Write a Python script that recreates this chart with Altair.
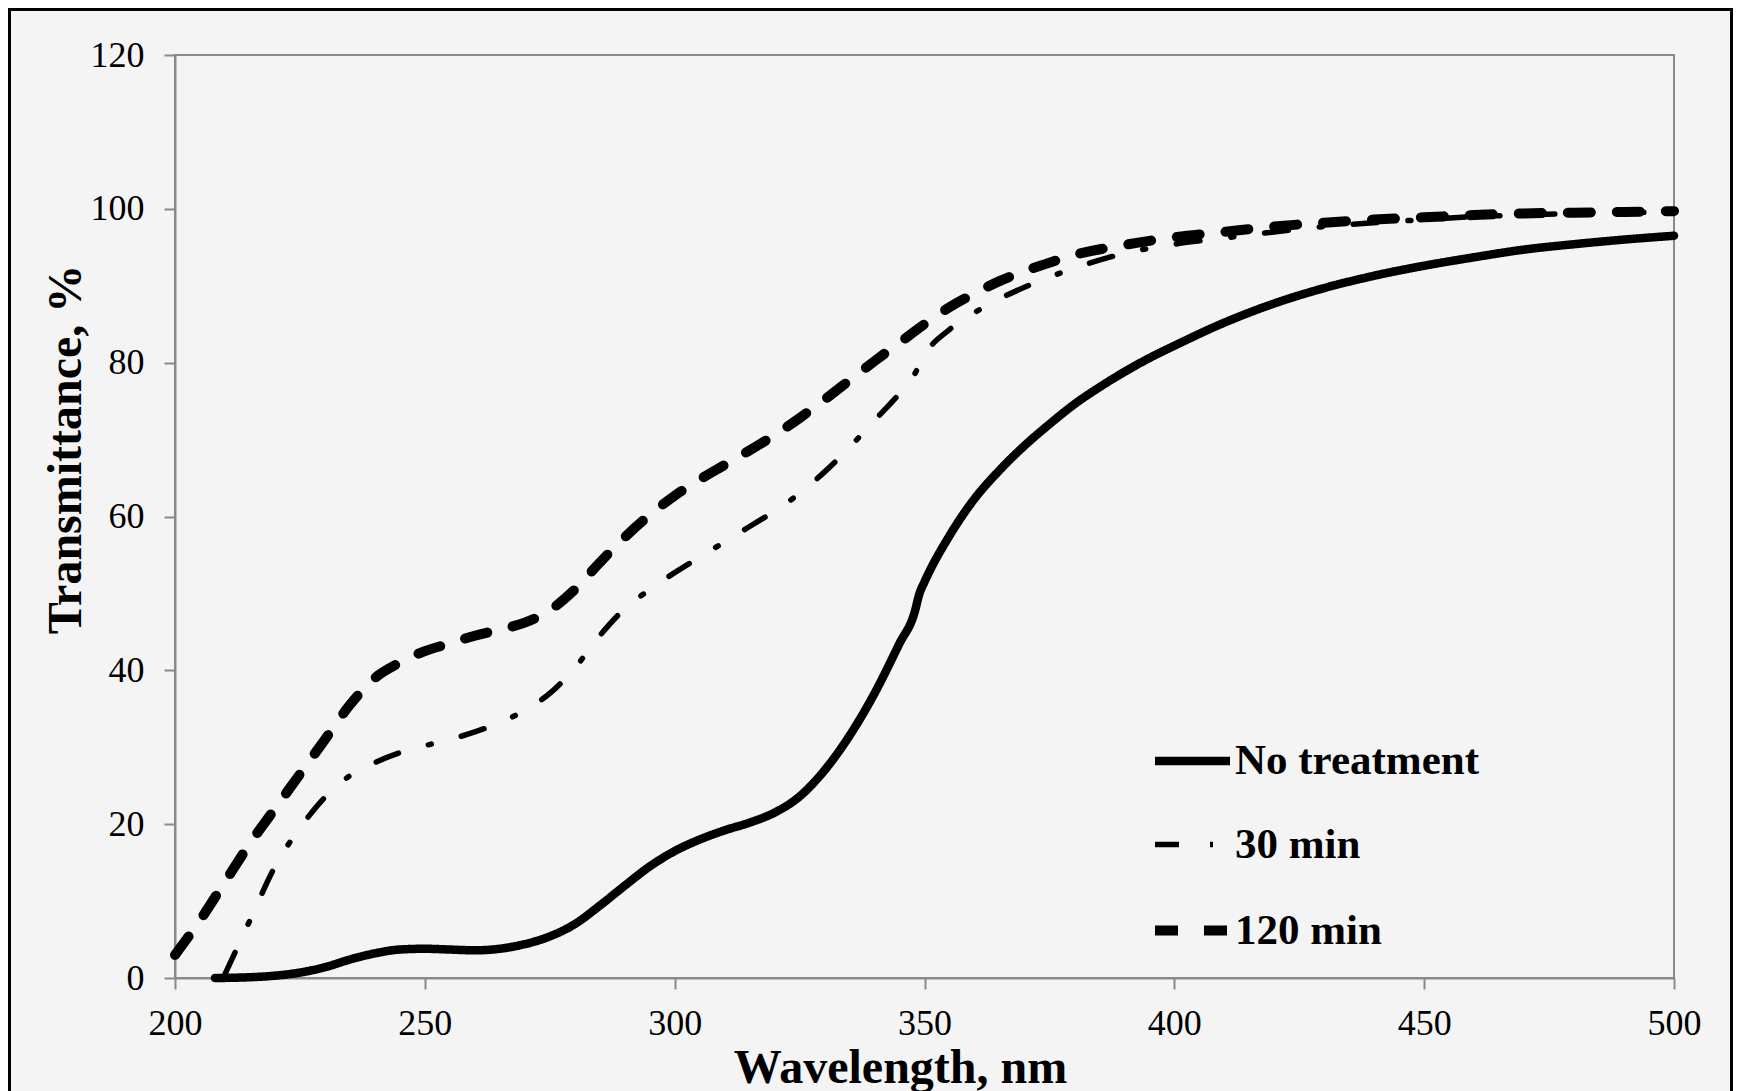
import altair as alt
import pandas as pd

# ---- data ----
series_order = ["No treatment", "30 min", "120 min"]

wl_none = [208, 215, 220, 225, 230, 235, 240, 245, 250, 255, 260, 265, 270, 275, 280, 285, 290, 295,
           300, 305, 310, 315, 320, 325, 330, 335, 340, 345, 348, 349, 350, 355, 360, 365, 370, 375,
           380, 385, 390, 395, 400, 410, 420, 430, 440, 450, 460, 470, 480, 490, 500]
t_none = [0.0, 0.1, 0.3, 0.7, 1.4, 2.4, 3.2, 3.7, 3.8, 3.7, 3.6, 3.8, 4.4, 5.4, 7.0, 9.4, 12.0, 14.5,
          16.5, 18.0, 19.2, 20.2, 21.5, 23.6, 27.0, 31.5, 37.0, 43.5, 47.5, 50.0, 51.5, 57.5, 62.3, 66.0,
          69.2, 72.0, 74.6, 76.8, 78.8, 80.6, 82.2, 85.2, 87.7, 89.7, 91.3, 92.6, 93.7, 94.7, 95.4, 96.0, 96.5]

wl_30 = [210, 215, 220, 225, 230, 235, 240, 245, 250, 255, 260, 265, 270, 275, 280, 285, 290, 295,
         300, 305, 310, 315, 320, 325, 330, 335, 340, 345, 348, 350, 355, 360, 365, 370, 380, 390,
         400, 410, 420, 430, 440, 450, 460, 470, 480, 490, 500]
t_30 = [0.5, 7.5, 14.5, 19.5, 23.5, 26.3, 28.0, 29.3, 30.2, 31.0, 32.0, 33.2, 34.8, 37.0, 40.3, 44.5,
        48.0, 50.5, 52.7, 54.7, 56.7, 58.7, 60.7, 63.0, 65.8, 69.0, 72.5, 76.0, 78.5, 81.0, 84.3, 86.5,
        88.3, 89.8, 92.3, 94.2, 95.4, 96.2, 97.0, 97.7, 98.2, 98.6, 99.0, 99.2, 99.4, 99.5, 99.6]

wl_120 = [200, 205, 210, 215, 220, 225, 230, 235, 240, 245, 250, 255, 260, 265, 270, 275, 280, 285,
          290, 295, 300, 305, 310, 315, 320, 325, 330, 335, 340, 345, 350, 355, 360, 365, 370, 375,
          380, 390, 400, 410, 420, 430, 440, 450, 460, 470, 480, 490, 500]
t_120 = [3.0, 7.5, 12.5, 17.5, 22.0, 26.5, 31.0, 35.5, 39.0, 41.0, 42.5, 43.5, 44.5, 45.3, 46.2, 47.8,
         50.5, 54.0, 57.3, 60.2, 62.7, 64.8, 66.7, 68.6, 70.6, 72.8, 75.2, 77.7, 80.2, 82.6, 85.0, 87.2,
         89.0, 90.6, 91.9, 93.0, 94.0, 95.3, 96.3, 97.0, 97.7, 98.2, 98.6, 98.9, 99.2, 99.4, 99.5, 99.6, 99.7]

x_ticks = [200, 250, 300, 350, 400, 450, 500]
y_ticks = [0, 20, 40, 60, 80, 100, 120]

rows = []
for name, xs, ys in [("No treatment", wl_none, t_none), ("30 min", wl_30, t_30), ("120 min", wl_120, t_120)]:
    for xv, yv in zip(xs, ys):
        rows.append({"series": name, "wl": xv, "T": yv})
df = pd.DataFrame(rows)

dashes = [[1, 0], [24, 31, 3, 31], [23, 26]]
widths = [8.5, 5.5, 10]

W, H = 1499, 923
PL, PT, PR, PB = 167, 47, 59, 130
FONT = "Liberation Serif"

leg = alt.Legend(
    title=None, orient="none", legendX=975, legendY=664,
    symbolType="stroke", symbolSize=5625, symbolStrokeColor="black",
    labelFont=FONT, labelFontSize=43, labelFontWeight="bold", labelColor="black",
    labelOffset=0, rowPadding=21, labelLimit=400,
)

lines = alt.Chart(df).mark_line(color="black", strokeCap="round", interpolate="monotone").encode(
    x=alt.X("wl:Q", scale=alt.Scale(domain=[200, 500], nice=False, zero=False),
            axis=alt.Axis(values=x_ticks, title="Wavelength, nm", labelPadding=17, labelFlush=False,
                          titleX=725, titleY=104, titleBaseline="alphabetic", titleAlign="center")),
    y=alt.Y("T:Q", scale=alt.Scale(domain=[0, 120], nice=False),
            axis=alt.Axis(values=y_ticks, title="Transmittance, %", labelPadding=20,
                          titleX=-95, titleY=394, titleBaseline="alphabetic", titleAlign="center")),
    strokeDash=alt.StrokeDash("series:N", scale=alt.Scale(domain=series_order, range=dashes), legend=leg),
    strokeWidth=alt.StrokeWidth("series:N", scale=alt.Scale(type="ordinal", domain=series_order, range=widths), legend=leg),
)

border = alt.Chart(alt.Data(values=[{"a": 1}])).mark_rect(
    filled=False, stroke="black", strokeWidth=3, clip=False
).encode(
    x=alt.value(-PL + 1.5), x2=alt.value(W + PR - 1.5),
    y=alt.value(-PT + 1.5), y2=alt.value(H + PB + 50),
)

chart = alt.layer(lines, border).properties(
    width=W, height=H,
    autosize="none",
    padding={"left": PL, "top": PT, "right": PR, "bottom": PB},
    background="#f4f4f4",
).configure_view(
    stroke="#898989", strokeWidth=2
).configure_axis(
    grid=False,
    domainColor="#898989", domainWidth=2,
    tickColor="#898989", tickWidth=2, tickSize=11,
    labelFont=FONT, labelFontSize=36, labelColor="black",
    titleFont=FONT, titleFontSize=48, titleFontWeight="bold", titleColor="black",
)

chart.save("out.html", embed_options={"renderer": "svg", "actions": False})
